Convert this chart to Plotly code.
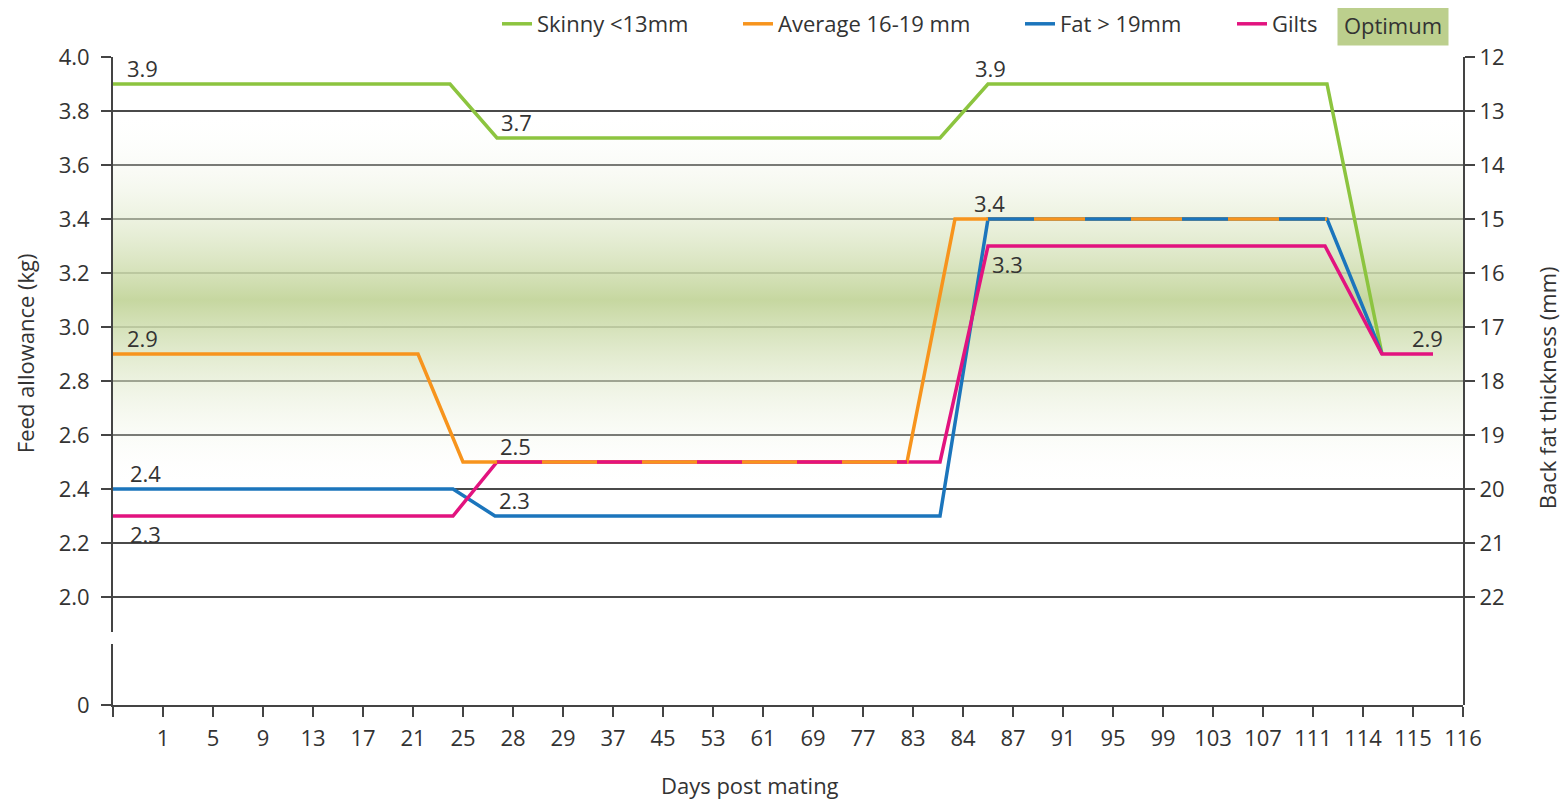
import plotly.graph_objects as go

# ---------------- data ----------------
day_labels = ["", "1", "5", "9", "13", "17", "21", "25", "28", "29", "37", "45", "53",
              "61", "69", "77", "83", "84", "87", "91", "95", "99", "103", "107",
              "111", "114", "115", "116"]

# x in tick-slot units (slot i carries day_labels[i])
skinny_x = [0, 6.74, 7.68, 16.54, 17.5, 24.28, 25.38]
skinny_y = [3.9, 3.9, 3.7, 3.7, 3.9, 3.9, 2.9]
average_x = [0, 6.1, 7.0, 15.88, 16.84, 24.28]
average_y = [2.9, 2.9, 2.5, 2.5, 3.4, 3.4]
fat_x = [0, 6.8, 7.64, 16.54, 17.5, 24.28, 25.38]
fat_y = [2.4, 2.4, 2.3, 2.3, 3.4, 3.4, 2.9]
gilts_x = [0, 6.8, 7.68, 16.54, 17.5, 24.24, 25.38, 26.4]
gilts_y = [2.3, 2.3, 2.5, 2.5, 3.3, 3.3, 2.9, 2.9]

optimum_mm = [13, 20]          # optimum back fat band
backfat_ticks = list(range(12, 23))
feed_ticks = [2.0, 2.2, 2.4, 2.6, 2.8, 3.0, 3.2, 3.4, 3.6, 3.8, 4.0]

# axis calibration: feed 4.0 kg <-> 12 mm, 0.2 kg per mm
KG_TOP, MM_TOP, KG_PER_MM = 4.0, 12, 0.2
def mm_to_kg(mm):
    return KG_TOP - (mm - MM_TOP) * KG_PER_MM

# ---------------- style ----------------
GREEN, ORANGE, BLUE, PINK = "#8cc43f", "#f7941d", "#1b75bc", "#e2137f"
TXT = "#333333"
FONT = "Open Sans"
FS = 22

# page offset of the plot div (body margin) is compensated in the layout
PAGE = 8
W, H = 1568 - PAGE, 802 - PAGE
PL, PT, PW, PH = 113 - PAGE, 57 - PAGE, 1350, 648

fig = go.Figure()

# optimum gradient band (drawn on the feed axis so grid lines stay on top)
band_kg = [mm_to_kg(v) for v in optimum_mm]
n = len(day_labels) - 1
fig.add_trace(go.Scatter(
    x=[0, n, n, 0, 0], y=[band_kg[0], band_kg[0], band_kg[1], band_kg[1], band_kg[0]],
    mode="lines", line=dict(width=0), fill="toself",
    fillgradient=dict(type="vertical",
                      colorscale=[[0, "rgba(255,255,255,0)"], [0.5, "#c6d7a0"], [1, "rgba(255,255,255,0)"]]),
    hoverinfo="skip", showlegend=False, xaxis="x", yaxis="y"))

# invisible traces to bind the lower (broken) feed axis and the right back-fat axis
fig.add_trace(go.Scatter(x=[0, n], y=[0, 0], mode="none", hoverinfo="skip",
                         showlegend=False, xaxis="x", yaxis="y2"))
fig.add_trace(go.Scatter(x=[0, n], y=optimum_mm, mode="none", hoverinfo="skip",
                         showlegend=False, xaxis="x", yaxis="y3"))

series = [
    ("Skinny <13mm", skinny_x, skinny_y, GREEN, "legend"),
    ("Fat > 19mm", fat_x, fat_y, BLUE, "legend3"),
    ("Gilts", gilts_x, gilts_y, PINK, "legend4"),
    ("Average 16-19 mm", average_x, average_y, ORANGE, "legend2"),
]
for name, xs, ys, col, lg in series:
    fig.add_trace(go.Scatter(x=xs, y=ys, mode="lines", name=name,
                             line=dict(color=col, width=3.5), legend=lg,
                             xaxis="x", yaxis="y"))


def shared_flats(ax, ay, bx, by):
    segs = []
    for i in range(len(ax) - 1):
        if ay[i] != ay[i + 1]:
            continue
        for j in range(len(bx) - 1):
            if by[j] != by[j + 1] or by[j] != ay[i]:
                continue
            lo, hi = max(ax[i], bx[j]), min(ax[i + 1], bx[j + 1])
            if hi > lo:
                segs.append(([lo, hi], [ay[i], ay[i]]))
    return segs

for xs, ys in shared_flats(average_x, average_y, gilts_x, gilts_y):
    fig.add_trace(go.Scatter(x=xs, y=ys, mode="lines", showlegend=False, hoverinfo="skip",
                             line=dict(color=PINK, width=3.5, dash="45px,55px")))
for xs, ys in shared_flats(average_x, average_y, fat_x, fat_y):
    fig.add_trace(go.Scatter(x=xs, y=ys, mode="lines", showlegend=False, hoverinfo="skip",
                             line=dict(color=BLUE, width=3.5, dash="46px,51px")))

# data labels
labels = [
    (skinny_x, skinny_y, 0, "left", "bottom", 12, -1),
    (skinny_x, skinny_y, 2, "left", "bottom", 2, -1),
    (skinny_x, skinny_y, 4, "left", "bottom", -15, -1),
    (fat_x, fat_y, 4, "left", "bottom", -16, -1),
    (gilts_x, gilts_y, 4, "left", "top", 2, -1),
    (gilts_x, gilts_y, 7, "right", "bottom", 12, -1),
    (average_x, average_y, 0, "left", "bottom", 12, -1),
    (gilts_x, gilts_y, 2, "left", "bottom", 1, -1),
    (fat_x, fat_y, 0, "left", "bottom", 15, -1),
    (fat_x, fat_y, 2, "left", "bottom", 2, -1),
    (gilts_x, gilts_y, 0, "left", "top", 15, -1),
]
annotations = []
for xs, ys, i, xa, ya, dx, dy in labels:
    annotations.append(dict(x=xs[i], y=ys[i], xref="x", yref="y", text=f"{ys[i]:.1f}",
                            showarrow=False, xanchor=xa, yanchor=ya, xshift=dx, yshift=dy,
                            font=dict(family=FONT, size=FS, color=TXT)))

# axis titles and the optimum key
annotations += [
    dict(text="Feed allowance (kg)", x=0, y=0.543, xref="paper", yref="paper", textangle=-90,
         xanchor="center", yanchor="middle", xshift=-88, showarrow=False,
         font=dict(family=FONT, size=FS, color=TXT)),
    dict(text="Back fat thickness (mm)", x=1, y=0.489, xref="paper", yref="paper", textangle=-90,
         xanchor="center", yanchor="middle", xshift=84, showarrow=False,
         font=dict(family=FONT, size=FS, color=TXT)),
    dict(text="Days post mating", x=(750 - 113) / PW, y=0, xref="paper", yref="paper",
         xanchor="center", yanchor="middle", yshift=-80, showarrow=False,
         font=dict(family=FONT, size=FS, color=TXT)),
    dict(text="Optimum", x=(1393 - 113) / PW, y=(705 - 25) / PH, xref="paper", yref="paper",
         xanchor="center", yanchor="middle", showarrow=False, bgcolor="#bccf8d",
         width=108, height=38, font=dict(family=FONT, size=FS, color=TXT)),
]

axis_common = dict(showline=True, linecolor="#444444", linewidth=2, ticks="outside",
                   ticklen=10, tickwidth=2, tickcolor="#444444",
                   tickfont=dict(family=FONT, size=FS, color=TXT), zeroline=False)

top_lo = (705 - 632) / PH
feed_min = KG_TOP - (632 - 57) / 270

legend_common = dict(orientation="h", yanchor="middle", y=(705 - 24) / PH, xanchor="left",
                     font=dict(family=FONT, size=FS, color=TXT), bgcolor="rgba(0,0,0,0)")

def lx(text_start_px):
    return (text_start_px - 40 - 113) / PW

fig.update_layout(
    width=W, height=H,
    margin=dict(l=PL, r=W - PL - PW, t=PT, b=H - PT - PH, autoexpand=False),
    paper_bgcolor="white", plot_bgcolor="rgba(0,0,0,0)",
    font=dict(family=FONT, size=FS, color=TXT),
    xaxis=dict(axis_common, range=[0, n], tickmode="array",
               tickvals=list(range(len(day_labels))), ticktext=day_labels,
               anchor="y2", showgrid=False, ticklabelstandoff=3),
    yaxis=dict(axis_common, domain=[top_lo, 1], range=[feed_min, KG_TOP], tickmode="array",
               tickvals=feed_ticks, ticktext=[f"{v:.1f}" for v in feed_ticks],
               showgrid=True, gridcolor="#4a4a4a", gridwidth=2, anchor="x",
               ticklabelstandoff=7),
    yaxis2=dict(axis_common, domain=[0, (705 - 644) / PH], range=[0, 1], tickmode="array",
                tickvals=[0], ticktext=["0"], showgrid=False, anchor="x",
                ticklabelstandoff=7),
    yaxis3=dict(axis_common, domain=[0, 1], range=[MM_TOP + PH / 54, MM_TOP], side="right",
                tickmode="array", tickvals=backfat_ticks, showgrid=False, anchor="x"),
    legend=dict(legend_common, x=lx(537)),
    legend2=dict(legend_common, x=lx(778)),
    legend3=dict(legend_common, x=lx(1060)),
    legend4=dict(legend_common, x=lx(1272)),
    annotations=annotations,
    showlegend=True,
)

fig.write_html("out.html")
